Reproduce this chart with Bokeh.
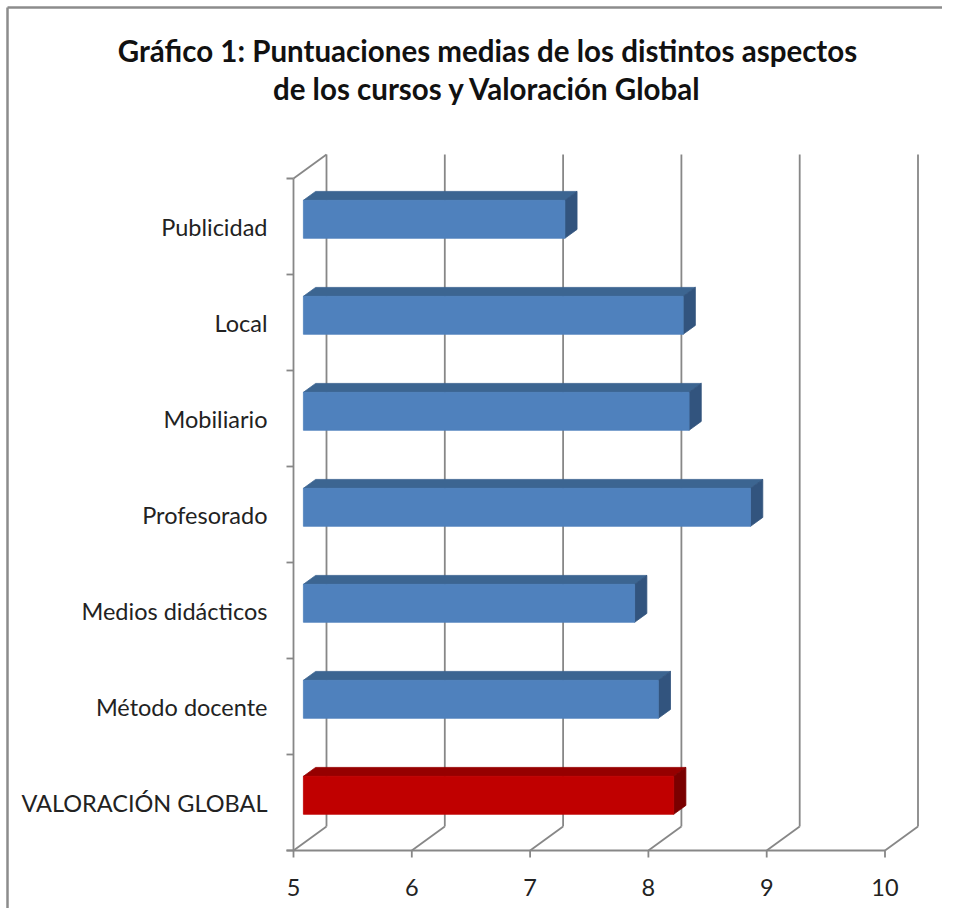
from bokeh.plotting import figure
from bokeh.models import Range1d
from bokeh.core.properties import value
from bokeh.embed import file_html
from bokeh.resources import INLINE

# ---- data ----
categories = ["VALORACIÓN GLOBAL", "Método docente", "Medios didácticos",
              "Profesorado", "Mobiliario", "Local", "Publicidad"]
scores = [8.13, 8.00, 7.80, 8.78, 8.26, 8.21, 7.21]
front_colors = ["#C00000", "#4F81BD", "#4F81BD", "#4F81BD", "#4F81BD", "#4F81BD", "#4F81BD"]
top_colors = ["#960000", "#3C6591", "#3C6591", "#3C6591", "#3C6591", "#3C6591", "#3C6591"]
side_colors = ["#7A0000", "#32547E", "#32547E", "#32547E", "#32547E", "#32547E", "#32547E"]
x_ticks = [5, 6, 7, 8, 9, 10]
x_tick_labels = ["5", "6", "7", "8", "9", "10"]
title_lines = ["Gráfico 1: Puntuaciones medias de los distintos aspectos",
               "de los cursos y Valoración Global"]

# ---- geometry (118.3 px per unit in x, 96 px per category in y) ----
PXX = 118.3
PXY = 96.0
X0 = 5.0
DX = 33 / PXX      # depth offset of back wall, x
DY = 24 / PXY      # depth offset of back wall, y
F1, F2 = 0.30, 0.67  # bar front / back depth fractions
H = 19 / PXY       # half bar height
N = len(categories)

W, Hh = 942, 908
# figure left edge = picture x 0 ; front x=5 at picture x 293
x_start = X0 - 293 / PXX
x_end = x_start + W / PXX
# y=0 at picture y 850 ; figure top = picture y 0
y_end = 850 / PXY
y_start = y_end - Hh / PXY

p = figure(width=W, height=Hh, output_backend="svg", toolbar_location=None,
           x_range=Range1d(x_start, x_end), y_range=Range1d(y_start, y_end),
           x_axis_location=None, y_axis_location=None, min_border=0)
p.outline_line_color = None
p.xgrid.visible = False
p.ygrid.visible = False
p.background_fill_color = "white"
p.border_fill_color = "white"

GRID = "#878787"
LW = 1.8

# outer chart border (left and top edges)
bx = x_start + 7 / PXX
by = y_end - 7 / PXY
p.segment(x0=[bx, bx], y0=[y_start, by], x1=[bx, x_end], y1=[by, by],
          line_color="#8C8C8C", line_width=2.5)

# back wall vertical gridlines
p.segment(x0=[t + DX for t in x_ticks], y0=[DY] * len(x_ticks),
          x1=[t + DX for t in x_ticks], y1=[N + DY] * len(x_ticks),
          line_color=GRID, line_width=LW)
# floor diagonals
p.segment(x0=x_ticks, y0=[0] * len(x_ticks),
          x1=[t + DX for t in x_ticks], y1=[DY] * len(x_ticks),
          line_color=GRID, line_width=LW)
# left wall top diagonal
p.segment(x0=[X0], y0=[N], x1=[X0 + DX], y1=[N + DY], line_color=GRID, line_width=LW)
# front value axis and category axis
p.segment(x0=[X0 - 7 / PXX, X0], y0=[0, 0], x1=[x_ticks[-1], X0], y1=[0, N],
          line_color=GRID, line_width=LW)
# category ticks
p.segment(x0=[X0 - 7 / PXX] * (N + 1), y0=list(range(N + 1)),
          x1=[X0] * (N + 1), y1=list(range(N + 1)), line_color=GRID, line_width=LW)
# value ticks
p.segment(x0=x_ticks, y0=[0] * len(x_ticks), x1=x_ticks, y1=[-7 / PXY] * len(x_ticks),
          line_color=GRID, line_width=LW)

# ---- 3D bars ----
fl, fr, fb, ft, tops_x, tops_y, sides_x, sides_y = [], [], [], [], [], [], [], []
for i, v in enumerate(scores):
    c = i + 0.5
    b1 = c - H + F1 * DY
    t1 = c + H + F1 * DY
    b2 = c - H + F2 * DY
    t2 = c + H + F2 * DY
    xl1 = X0 + F1 * DX
    xl2 = X0 + F2 * DX
    xr1 = v + F1 * DX
    xr2 = v + F2 * DX
    fl.append(xl1); fr.append(xr1); fb.append(b1); ft.append(t1)
    tops_x.append([xl1, xr1, xr2, xl2]); tops_y.append([t1, t1, t2, t2])
    sides_x.append([xr1, xr2, xr2, xr1]); sides_y.append([b1, b2, t2, t1])

p.patches(xs=tops_x, ys=tops_y, fill_color=top_colors, line_color=top_colors, line_width=0.8)
p.patches(xs=sides_x, ys=sides_y, fill_color=side_colors, line_color=side_colors, line_width=0.8)
p.quad(left=fl, right=fr, bottom=fb, top=ft, fill_color=front_colors,
       line_color=front_colors, line_width=0.8)

# ---- texts ----
FONT = value("Lato")
p.text(x=[X0 - 26 / PXX] * N, y=[i + 0.5 for i in range(N)], text=categories,
       text_font=FONT, text_font_size="23.5px", text_color="#222222",
       text_align="right", text_baseline="middle")
p.text(x=x_ticks, y=[-37 / PXY] * len(x_ticks), text=x_tick_labels,
       text_font=FONT, text_font_size="23.5px", text_color="#222222",
       text_align="center", text_baseline="middle")
title_x = X0 + (487 - 293) / PXX
p.text(x=[title_x, title_x], y=[(850 - 50) / PXY, (850 - 88) / PXY], text=title_lines,
       text_font=FONT, text_font_size="29.5px", text_font_style="bold",
       text_color="#111111", text_align="center", text_baseline="middle")

open("out.html", "w").write(file_html(p, INLINE))
